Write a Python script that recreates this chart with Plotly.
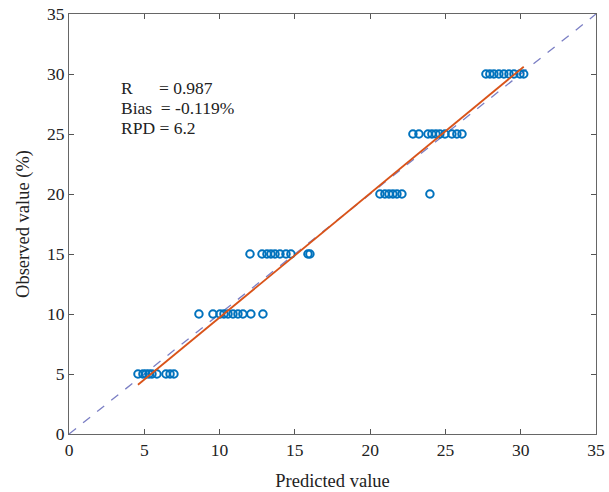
import numpy as np
import plotly.graph_objects as go

# Predicted (x) and observed (y) values
pred_5 = [4.58, 4.91, 5.11, 5.31, 5.51, 5.84, 6.44, 6.71, 6.97]
pred_10 = [8.63, 9.56, 10.03, 10.29, 10.56, 10.89, 11.22, 11.55, 12.08, 12.88]
pred_15 = [12.02, 12.82, 13.15, 13.41, 13.68, 14.01, 14.41, 14.74, 15.87, 16.0]
pred_20 = [20.65, 20.98, 21.25, 21.51, 21.78, 22.11, 23.97]
obs_20 = [20, 20, 20, 20, 20, 20, 20]
pred_25 = [22.84, 23.24, 23.84, 24.1, 24.37, 24.63, 24.97, 25.43, 25.76, 26.1]
pred_30 = [27.69, 27.95, 28.22, 28.55, 28.88, 29.22, 29.55, 29.95, 30.2]

stats_labels = ["R      = 0.987", "Bias  = -0.119%", "RPD = 6.2"]
ticks = [0, 5, 10, 15, 20, 25, 30, 35]

pred = pred_5 + pred_10 + pred_15 + pred_20 + pred_25 + pred_30
obs = ([5] * len(pred_5) + [10] * len(pred_10) + [15] * len(pred_15)
       + obs_20 + [25] * len(pred_25) + [30] * len(pred_30))

x = np.array(pred)
y = np.array(obs, dtype=float)
slope, intercept = np.polyfit(x, y, 1)
fx = np.array([x.min(), x.max()])
fy = slope * fx + intercept

font = "Liberation Serif, Times New Roman, serif"

fig = go.Figure()
fig.add_trace(go.Scatter(x=[0, 35], y=[0, 35], mode="lines",
                         line=dict(color="#7b7fc4", width=1.3, dash="dash"),
                         showlegend=False))
fig.add_trace(go.Scatter(x=x, y=y, mode="markers",
                         marker=dict(symbol="circle-open", size=7.5, color="#0072BD",
                                     line=dict(width=2, color="#0072BD")),
                         showlegend=False))
fig.add_trace(go.Scatter(x=fx, y=fy, mode="lines",
                         line=dict(color="#D95319", width=1.8),
                         showlegend=False))

for i, t in enumerate(stats_labels):
    fig.add_annotation(x=3.35, y=28.8 - i * 1.67, text=t, showarrow=False,
                       xanchor="left", yanchor="middle",
                       font=dict(family=font, size=17.5, color="#222"))

axis_common = dict(range=[0, 35], tickvals=ticks, ticks="inside", ticklen=5,
                   tickcolor="#555", showline=True, linecolor="#666", linewidth=1.2,
                   mirror="ticks", showgrid=False, zeroline=False, automargin=False,
                   tickfont=dict(family=font, size=17.5, color="#222"))

fig.update_xaxes(**axis_common,
                 title=dict(text="Predicted value", font=dict(family=font, size=18.5, color="#222"),
                            standoff=14))
fig.update_yaxes(**axis_common,
                 title=dict(text="Observed value (%)", font=dict(family=font, size=18.5, color="#222"),
                            standoff=12))

fig.update_layout(width=609, height=492, plot_bgcolor="white", paper_bgcolor="white",
                  margin=dict(l=69, r=13, t=14, b=58, autoexpand=False))

fig.write_html("out.html")
